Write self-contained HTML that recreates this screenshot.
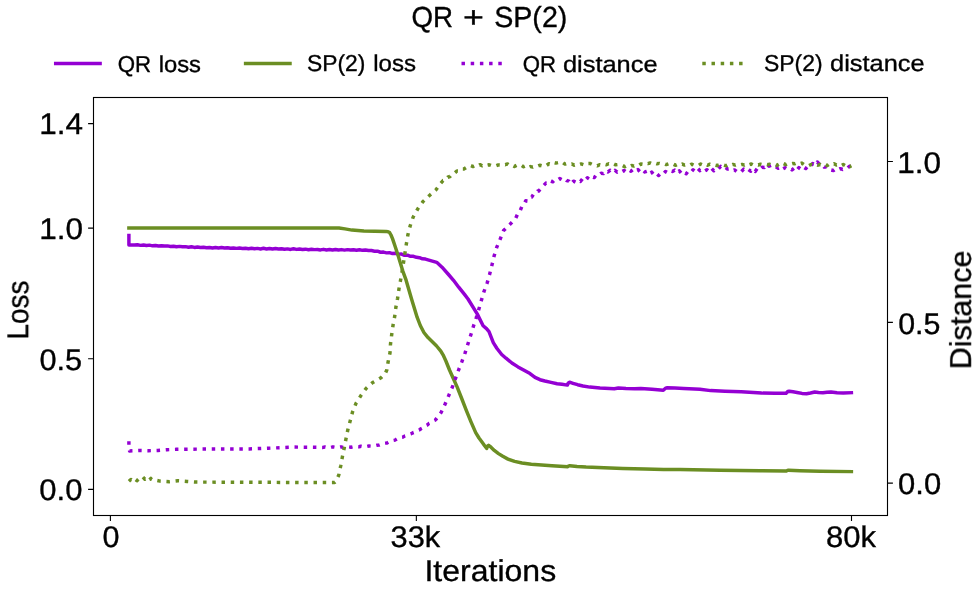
<!DOCTYPE html>
<html lang="en">
<head>
<meta charset="utf-8">
<title>QR + SP(2)</title>
<style>
html,body{margin:0;padding:0;background:#fff;}
body{width:980px;height:591px;overflow:hidden;}
svg{display:block;}
text{text-rendering:geometricPrecision;}
text{font-family:"Liberation Sans",sans-serif;fill:#000;stroke:#000;stroke-width:0.35;}
.sp{stroke:#000;stroke-width:1.11;fill:none;}
.ln{fill:none;stroke-width:3.47;stroke-linejoin:round;}
.dt{fill:none;stroke-width:3.47;stroke-dasharray:3.47 5.73;stroke-linejoin:round;}
</style>
</head>
<body>
<svg width="980" height="591" viewBox="0 0 980 591">
<rect x="0" y="0" width="980" height="591" fill="#ffffff"/>
<g>
<path class="ln" stroke-linecap="square" stroke="#9400D3" d="M128.90,235.60 L128.90,245.00 L134.50,245.03 L137.50,244.74 L140.50,245.37 L143.50,245.00 L146.50,245.47 L149.50,245.13 L152.50,245.84 L155.50,245.42 L158.50,245.97 L161.50,245.71 L164.50,246.06 L167.50,245.90 L170.50,246.44 L173.50,246.20 L176.50,246.72 L179.50,246.38 L182.50,246.79 L185.50,246.66 L188.50,247.22 L191.50,246.70 L194.50,247.41 L197.50,246.96 L200.50,247.41 L203.50,247.22 L206.50,247.69 L209.50,247.43 L212.50,247.97 L215.50,247.53 L218.50,247.92 L221.50,247.57 L224.50,248.07 L227.50,247.70 L230.50,248.32 L233.50,247.92 L236.50,248.38 L239.50,248.04 L242.50,248.44 L245.50,248.25 L248.50,248.71 L251.50,248.29 L254.50,248.79 L257.50,248.40 L260.50,248.93 L263.50,248.31 L266.50,248.97 L269.50,248.44 L272.50,249.02 L275.50,248.55 L278.50,249.00 L281.50,248.71 L284.50,249.29 L287.50,248.89 L290.50,249.42 L293.50,248.82 L296.50,249.39 L299.50,249.07 L302.50,249.51 L305.50,249.17 L308.50,249.76 L311.50,249.28 L314.50,249.62 L317.50,249.46 L320.50,249.91 L323.50,249.33 L326.50,249.96 L329.50,249.57 L332.50,250.05 L335.50,249.54 L338.50,249.99 L341.50,249.61 L344.50,250.11 L347.50,249.64 L350.50,250.05 L353.50,249.84 L356.50,250.22 L359.50,249.77 L362.50,250.34 L365.50,249.98 L368.50,250.46 L371.50,250.56 L374.50,251.21 L377.50,251.23 L380.50,252.25 L383.50,252.10 L386.50,252.88 L389.50,252.66 L392.50,253.57 L395.50,253.22 L398.50,254.13 L401.50,254.10 L404.50,255.31 L407.50,255.24 L410.50,256.32 L413.50,256.29 L416.50,257.33 L419.50,257.68 L422.50,258.85 L425.50,259.09 L428.00,259.80 L436.70,262.30 L442.00,267.20 L448.50,274.50 L453.50,280.30 L458.70,287.20 L464.50,294.40 L468.00,299.00 L477.20,313.90 L483.10,325.70 L486.50,328.60 L489.00,331.60 L493.30,342.60 L497.00,348.50 L501.70,354.50 L506.00,358.20 L511.90,363.00 L518.00,366.90 L524.50,370.60 L530.00,373.60 L535.00,377.40 L540.00,379.70 L544.90,381.00 L551.00,382.40 L557.10,383.70 L562.00,384.30 L567.30,385.10 L568.40,382.90 L569.60,382.20 L573.00,383.30 L577.60,384.70 L583.00,386.00 L589.80,387.10 L600.00,388.00 L614.30,388.80 L618.40,388.00 L626.00,388.50 L634.70,388.80 L640.80,388.40 L652.00,389.30 L663.30,390.20 L665.50,388.20 L667.30,387.80 L675.00,388.10 L683.70,388.40 L700.00,389.20 L710.60,390.60 L725.00,391.20 L741.20,391.80 L761.60,393.10 L775.00,393.30 L786.10,393.30 L787.80,391.50 L789.20,391.20 L793.00,391.80 L798.40,392.70 L802.00,393.40 L806.50,393.70 L810.50,393.00 L814.70,392.00 L818.50,392.50 L822.90,392.70 L827.00,392.20 L831.00,392.00 L837.00,392.70 L843.30,393.10 L851.40,392.70"/>
<path class="ln" stroke-linecap="square" stroke="#6B8E23" d="M128.90,227.90 L200.00,228.00 L300.00,228.00 L339.00,228.00 L345.00,228.90 L352.00,230.10 L363.90,231.00 L375.00,231.20 L385.90,231.40 L388.00,231.70 L389.60,232.60 L391.00,235.00 L392.60,238.90 L395.00,246.00 L397.70,254.20 L402.80,271.10 L406.10,280.20 L411.70,299.60 L417.10,317.20 L420.30,325.50 L423.90,332.50 L428.00,337.60 L432.30,341.80 L436.60,346.00 L440.80,351.10 L443.50,355.70 L445.90,361.00 L449.50,370.00 L453.20,378.20 L457.10,386.90 L461.50,398.00 L466.40,410.60 L471.00,421.80 L475.70,432.60 L479.00,438.00 L482.50,442.80 L484.80,446.00 L486.70,448.30 L487.50,446.20 L488.60,445.30 L491.00,447.20 L494.30,450.40 L498.50,453.60 L502.80,456.30 L508.00,459.10 L514.60,461.40 L522.00,463.00 L531.30,464.20 L551.90,465.70 L567.80,466.70 L568.80,465.90 L569.80,465.70 L577.00,466.50 L586.10,467.10 L604.00,467.80 L622.90,468.40 L645.00,469.00 L663.70,469.50 L680.00,469.50 L720.00,470.20 L760.00,470.70 L786.30,471.00 L787.40,470.40 L788.40,470.20 L800.00,470.70 L820.00,471.20 L851.40,471.60"/>
<path class="dt" stroke="#9400D3" d="M128.90,441.20 L128.90,448.50 L129.60,450.90 L139.30,450.50 L148.60,450.70 L157.90,450.40 L167.10,449.70 L176.40,449.30 L212.90,449.00 L249.30,448.90 L268.40,448.20 L294.50,447.10 L323.00,447.41 L325.00,446.95 L327.00,447.42 L329.00,446.88 L331.00,447.38 L333.00,446.86 L335.00,447.19 L337.00,446.93 L339.00,447.36 L341.00,446.86 L343.00,447.33 L345.00,446.95 L347.00,447.20 L349.00,446.89 L351.00,447.19 L353.00,446.73 L355.00,446.90 L357.00,446.61 L359.00,446.77 L361.00,446.27 L363.00,446.68 L365.00,446.24 L367.00,446.49 L369.00,446.01 L371.00,446.16 L373.00,445.68 L375.00,445.69 L377.00,445.19 L379.00,445.14 L381.00,444.35 L383.00,444.21 L385.00,443.12 L387.00,442.93 L389.00,441.81 L391.00,441.58 L393.00,440.48 L395.00,440.12 L397.00,438.92 L399.00,438.62 L401.00,437.32 L403.00,437.07 L405.00,435.88 L407.00,435.39 L409.00,434.36 L411.00,433.79 L413.00,432.74 L415.00,432.03 L417.00,430.75 L419.00,430.08 L421.00,428.71 L423.00,427.73 L425.00,426.11 L427.00,425.15 L429.00,423.46 L431.00,422.57 L433.00,421.05 L435.00,420.25 L435.70,419.60 L441.10,412.50 L445.00,404.30 L448.70,395.60 L452.40,387.00 L455.40,378.60 L458.60,370.00 L461.90,361.60 L465.00,353.10 L467.90,344.00 L470.80,335.00 L473.50,326.00 L476.30,317.60 L478.90,309.10 L481.40,300.30 L484.00,291.50 L487.30,282.50 L489.60,274.40 L492.00,264.90 L494.10,256.10 L496.70,247.40 L500.30,238.80 L503.60,230.50 L510.20,224.10 L515.70,218.26 L517.70,213.80 L519.70,211.91 L521.70,206.91 L523.70,204.79 L525.70,200.78 L527.70,200.98 L529.70,197.61 L531.70,197.10 L533.70,193.84 L535.70,193.61 L537.70,191.07 L538.70,191.00 L543.60,185.55 L545.90,183.10 L548.20,183.62 L550.50,180.89 L552.80,181.75 L555.10,179.40 L557.40,180.13 L559.70,178.57 L562.00,179.80 L564.30,178.36 L566.60,180.56 L568.90,181.07 L571.20,184.10 L573.50,181.19 L575.80,182.25 L578.10,180.27 L580.40,181.50 L582.70,178.48 L585.00,180.50 L587.30,177.80 L589.60,179.28 L591.90,176.52 L594.20,177.56 L596.50,174.77 L598.80,175.30 L601.10,173.33 L603.40,173.61 L605.70,170.59 L608.00,171.93 L610.30,170.18 L612.60,172.21 L614.90,170.21 L617.20,172.12 L619.50,170.76 L621.80,171.73 L624.10,170.46 L626.40,172.02 L628.70,169.80 L631.00,171.28 L633.30,169.36 L635.60,171.17 L637.90,169.60 L640.20,171.86 L642.50,169.66 L644.80,171.97 L647.10,171.16 L649.40,174.06 L651.70,172.20 L654.00,174.93 L656.30,173.16 L658.60,175.46 L660.90,173.02 L663.20,173.97 L665.50,171.43 L667.80,172.65 L670.10,170.59 L672.40,171.45 L674.70,170.16 L677.00,172.83 L679.30,170.83 L681.60,173.54 L683.90,171.72 L686.20,173.76 L688.50,170.86 L690.80,172.29 L693.10,169.73 L695.40,171.58 L697.70,168.40 L700.00,170.67 L702.30,169.06 L704.60,171.08 L706.90,169.73 L709.20,171.53 L711.50,168.41 L713.80,170.74 L716.10,168.07 L718.40,168.93 L720.70,166.31 L723.00,168.16 L725.30,167.23 L727.60,169.09 L729.90,168.81 L732.20,170.70 L734.50,169.92 L736.80,171.64 L739.10,170.24 L741.40,171.52 L743.70,169.16 L746.00,170.85 L748.30,169.32 L750.60,171.21 L752.90,168.81 L755.20,171.45 L757.50,168.09 L759.80,169.46 L762.10,167.19 L764.40,167.58 L766.70,164.15 L769.00,166.15 L771.30,165.15 L773.60,167.31 L775.90,166.80 L778.20,168.22 L780.50,166.76 L782.80,168.93 L785.10,167.65 L787.40,169.17 L789.70,168.24 L792.00,169.90 L794.30,168.07 L796.60,170.53 L798.90,167.60 L801.20,169.43 L803.50,167.08 L805.80,168.53 L808.10,166.02 L810.40,166.95 L812.70,163.48 L815.00,165.38 L817.30,161.97 L819.60,164.50 L821.90,164.32 L824.20,167.14 L826.50,167.11 L828.80,170.25 L831.10,170.01 L833.40,170.56 L835.70,168.85 L838.00,169.87 L840.30,168.66 L842.60,169.48 L844.90,168.27 L847.20,168.39 L849.50,166.17 L851.40,166.20"/>
<path class="dt" stroke="#6B8E23" d="M128.90,481.33 L130.90,479.50 L132.90,481.02 L134.90,478.98 L136.90,480.63 L138.90,478.69 L140.90,479.06 L142.90,477.04 L144.90,479.22 L146.90,478.18 L148.90,480.51 L150.90,478.39 L151.10,479.30 L160.00,481.10 L169.30,481.70 L177.90,480.70 L187.10,481.40 L196.40,482.10 L242.10,482.20 L300.00,482.50 L334.60,482.50 L336.20,481.00 L338.80,475.00 L340.70,466.00 L342.40,456.70 L344.30,447.70 L346.00,438.70 L347.80,429.90 L350.20,420.90 L352.60,411.70 L356.10,403.10 L360.90,395.60 L366.10,388.40 L372.70,382.50 L381.00,377.80 L385.30,373.50 L386.80,370.00 L388.10,361.90 L390.00,352.80 L390.50,344.00 L391.70,334.50 L393.00,325.40 L394.70,316.40 L395.90,307.10 L397.60,298.30 L398.90,289.20 L400.60,280.00 L402.20,271.00 L403.60,262.10 L404.90,253.30 L406.40,243.80 L407.90,234.80 L410.20,225.80 L413.20,217.00 L417.80,208.80 L423.00,201.60 L429.20,195.70 L436.00,189.80 L440.80,183.15 L443.10,180.52 L445.40,180.08 L447.70,177.23 L450.00,176.53 L452.30,173.89 L454.60,173.08 L456.90,171.04 L459.20,171.16 L461.50,169.05 L463.80,169.04 L466.10,167.58 L468.40,167.34 L470.70,165.59 L473.00,166.54 L475.30,165.55 L477.60,166.34 L479.90,164.65 L482.20,165.83 L484.50,164.58 L486.80,165.27 L489.10,164.78 L491.40,165.67 L493.70,165.14 L496.00,165.86 L498.30,164.99 L500.60,165.17 L502.90,164.15 L505.20,164.69 L507.50,164.01 L509.80,165.74 L512.10,165.25 L514.40,166.51 L516.70,165.32 L519.00,166.21 L521.30,165.27 L523.60,166.78 L525.90,165.72 L528.20,167.63 L530.50,166.58 L532.80,167.11 L535.10,165.97 L537.40,166.21 L539.70,165.25 L542.00,165.85 L544.30,164.53 L546.60,165.36 L548.90,163.76 L551.20,164.41 L553.50,162.48 L555.80,163.09 L558.10,162.59 L560.40,163.62 L562.70,162.47 L565.00,164.13 L567.30,163.38 L569.60,164.47 L571.90,163.95 L574.20,165.14 L576.50,164.15 L578.80,164.74 L581.10,163.91 L583.40,164.70 L585.70,162.98 L588.00,163.61 L590.30,163.55 L592.60,164.68 L594.90,164.74 L597.20,165.87 L599.50,164.70 L601.80,165.30 L604.10,164.12 L606.40,164.75 L608.70,163.75 L611.00,164.55 L613.30,163.64 L615.60,164.84 L617.90,164.56 L620.20,165.72 L622.50,165.46 L624.80,166.73 L627.10,165.49 L629.40,166.68 L631.70,165.49 L634.00,166.07 L636.30,164.91 L638.60,165.58 L640.90,163.93 L643.20,164.34 L645.50,162.93 L647.80,163.61 L650.10,162.96 L652.40,163.94 L654.70,162.92 L657.00,163.75 L659.30,163.39 L661.60,164.10 L663.90,163.57 L666.20,164.58 L668.50,163.79 L670.80,164.82 L673.10,164.05 L675.40,165.32 L677.70,164.19 L680.00,165.26 L682.30,164.11 L684.60,165.10 L686.90,164.52 L689.20,165.52 L691.50,164.14 L693.80,165.14 L696.10,164.50 L698.40,165.42 L700.70,164.01 L703.00,164.96 L705.30,163.83 L707.60,165.23 L709.90,164.21 L712.20,165.40 L714.50,164.93 L716.80,165.55 L719.10,164.67 L721.40,165.82 L723.70,164.97 L726.00,165.79 L728.30,164.56 L730.60,165.54 L732.90,164.44 L735.20,165.09 L737.50,164.19 L739.80,165.03 L742.10,164.42 L744.40,165.09 L746.70,163.72 L749.00,164.78 L751.30,163.97 L753.60,165.21 L755.90,164.34 L758.20,164.99 L760.50,164.27 L762.80,164.89 L765.10,164.04 L767.40,164.66 L769.70,164.25 L772.00,165.45 L774.30,164.95 L776.60,165.48 L778.90,164.06 L781.20,165.20 L783.50,163.60 L785.80,164.62 L788.10,163.37 L790.40,164.03 L792.70,163.42 L795.00,163.73 L797.30,162.70 L799.60,163.90 L801.90,163.11 L804.20,164.63 L806.50,164.42 L808.80,165.71 L811.10,164.49 L813.40,165.34 L815.70,164.06 L818.00,165.14 L820.30,164.53 L822.60,165.78 L824.90,164.59 L827.20,165.59 L829.50,164.05 L831.80,164.96 L834.10,163.63 L836.40,164.98 L838.70,164.24 L841.00,165.75 L843.30,164.52 L845.60,165.81 L847.90,164.90 L850.20,166.40 L851.40,165.80"/>
</g>
<rect class="sp" x="93.5" y="97.5" width="794" height="418"/>
<path class="sp" d="M88.1,123.6 H93.5 M88.1,228.1 H93.5 M88.1,358.8 H93.5 M88.1,489.4 H93.5 M887.5,161.5 H892.9 M887.5,322.35 H892.9 M887.5,483.15 H892.9 M110.4,515.5 V520.9 M416.35,515.5 V520.9 M851.5,515.5 V520.9"/>
<path class="ln" stroke-linecap="square" stroke="#9400D3" d="M55.7,63.5 H100.1"/>
<path class="ln" stroke-linecap="square" stroke="#6B8E23" d="M245.6,63.5 H290.0"/>
<path class="dt" stroke="#9400D3" d="M461.5,63.6 H505.9"/>
<path class="dt" stroke="#6B8E23" d="M702.3,63.5 H746.7"/>
<g opacity="0.999">
<text y="26.7" font-size="29.0"><tspan x="411.49" textLength="41.6" lengthAdjust="spacingAndGlyphs">QR</tspan> <tspan x="463.05" textLength="20.91" lengthAdjust="spacingAndGlyphs">+</tspan> <tspan x="494.2" textLength="73.17" lengthAdjust="spacingAndGlyphs">SP(2)</tspan></text>
<text y="72.2" font-size="23.0"><tspan x="117.75" textLength="33.39" lengthAdjust="spacingAndGlyphs">QR</tspan> <tspan x="158.7" textLength="42.3" lengthAdjust="spacingAndGlyphs">loss</tspan></text>
<text y="71.4" font-size="23.0"><tspan x="306.96" textLength="58.35" lengthAdjust="spacingAndGlyphs">SP(2)</tspan> <tspan x="373.28" textLength="42.79" lengthAdjust="spacingAndGlyphs">loss</tspan></text>
<text y="72.2" font-size="23.0"><tspan x="522.85" textLength="33.28" lengthAdjust="spacingAndGlyphs">QR</tspan> <tspan x="562.93" textLength="94.59" lengthAdjust="spacingAndGlyphs">distance</tspan></text>
<text y="71.4" font-size="23.0"><tspan x="763.96" textLength="58.56" lengthAdjust="spacingAndGlyphs">SP(2)</tspan> <tspan x="830.13" textLength="94.49" lengthAdjust="spacingAndGlyphs">distance</tspan></text>
<text x="39.2" y="134.3" font-size="29.8" textLength="43.72" lengthAdjust="spacingAndGlyphs">1.4</text>
<text x="39.2" y="238.85" font-size="29.8" textLength="43.83" lengthAdjust="spacingAndGlyphs">1.0</text>
<text x="39.5" y="369.5" font-size="29.8" textLength="42.69" lengthAdjust="spacingAndGlyphs">0.5</text>
<text x="39.29" y="500.0" font-size="29.8" textLength="43.12" lengthAdjust="spacingAndGlyphs">0.0</text>
<text x="897.3" y="172.6" font-size="29.8" textLength="43.83" lengthAdjust="spacingAndGlyphs">1.0</text>
<text x="898.16" y="333.6" font-size="29.8" textLength="42.21" lengthAdjust="spacingAndGlyphs">0.5</text>
<text x="898.14" y="493.9" font-size="29.8" textLength="43.07" lengthAdjust="spacingAndGlyphs">0.0</text>
<text x="102.51" y="546.7" font-size="29.8" textLength="16.99" lengthAdjust="spacingAndGlyphs">0</text>
<text x="390.53" y="546.7" font-size="29.8" textLength="49.63" lengthAdjust="spacingAndGlyphs">33k</text>
<text x="825.95" y="546.7" font-size="29.8" textLength="50.0" lengthAdjust="spacingAndGlyphs">80k</text>
<text x="424.45" y="580.6" font-size="30.0" textLength="131.71" lengthAdjust="spacingAndGlyphs">Iterations</text>
<text x="28.6" y="339.4" font-size="30.0" textLength="58.89" lengthAdjust="spacingAndGlyphs" transform="rotate(-90 28.6 339.4)">Loss</text>
<text x="971.2" y="369.3" font-size="30.0" textLength="118.86" lengthAdjust="spacingAndGlyphs" transform="rotate(-90 971.2 369.3)">Distance</text>
</g>
</svg>
</body>
</html>
